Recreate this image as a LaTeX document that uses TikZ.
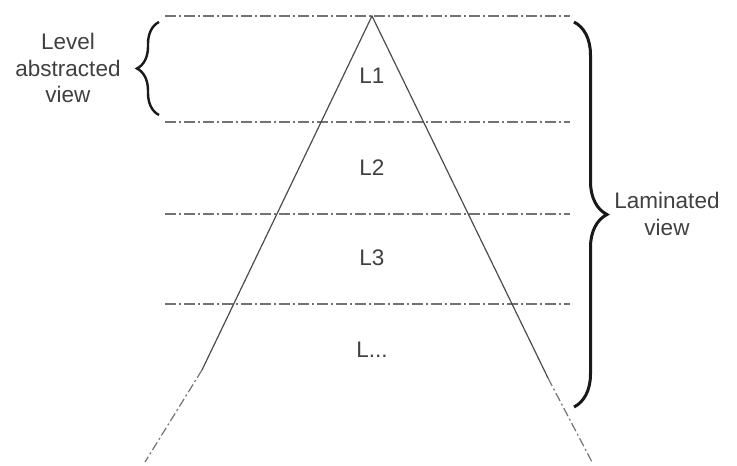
\documentclass[tikz,border=0pt]{standalone}
\usepackage{fontspec}
\setmainfont{Liberation Sans}
\usetikzlibrary{decorations.pathreplacing}

\begin{document}
\begin{tikzpicture}[
      x=1pt, y=-1pt,
      layerline/.style={draw=black!55, line width=1.2pt,
        dash pattern=on 11pt off 3pt on 2pt off 3pt},
      sideline/.style={draw=black!70, line width=1.2pt},
      sidecont/.style={draw=black!55, line width=1.2pt,
        dash pattern=on 9pt off 3pt on 2pt off 3pt},
      layerlabel/.style={font=\fontsize{22.5}{26}\selectfont, text=black!75},
      sidelabel/.style={font=\fontsize{22.5}{26.5}\selectfont, text=black!75,
        align=center, inner sep=0pt},
      bigbrace/.style={decorate, decoration={brace, amplitude=#1},
        line width=3pt, draw=black!90}
    ]
    \useasboundingbox (0,0) rectangle (737,466);

    % apex and ends of the two sides
    \coordinate (apex) at (372,16);
    \coordinate (leftmid) at (202,370);
    \coordinate (leftend) at (145,462);
    \coordinate (rightmid) at (548,378);
    \coordinate (rightend) at (592,462);

    % layer boundaries
    \foreach \y/\n in {16/a,122/b,214/c,304/d} {
      \coordinate (w\n) at (165,\y);
      \coordinate (e\n) at (570,\y);
      \draw[layerline] (w\n) -- (e\n);
    }

    % the two sides
    \draw[sideline] (leftmid) -- (apex) -- (rightmid);
    \draw[sidecont] (leftmid) -- (leftend);
    \draw[sidecont] (rightmid) -- (rightend);

    \node[layerlabel] (l1) at (372,76) {L1};
    \node[layerlabel] (l2) at (372,168) {L2};
    \node[layerlabel] (l3) at (372,258) {L3};
    \node[layerlabel] (ln) at (372,350) {L...};

    % braces
    \coordinate (lbtop) at (159,22);
    \coordinate (lbbot) at (159,115);
    \coordinate (rbtop) at (574,22);
    \coordinate (rbbot) at (574,407);
    \draw[bigbrace=22pt, line width=2.4pt] (lbbot) -- (lbtop);
    \draw[bigbrace=33pt] (rbtop) -- (rbbot);

    \node[sidelabel] (level) at (68,68) {Level\\abstracted\\view};
    \node[sidelabel] (lamin) at (667,214) {Laminated\\view};
  \end{tikzpicture}
\end{document}
